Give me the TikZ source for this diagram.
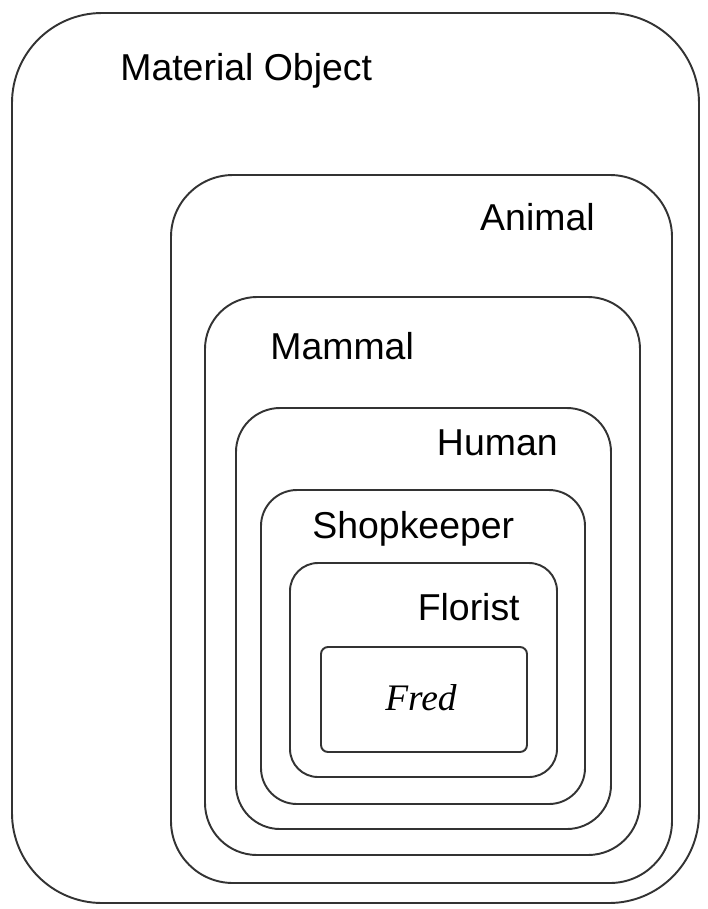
\documentclass[tikz,border=0pt]{standalone}
\usepackage{fontspec}
\setmainfont{Liberation Sans}
\newfontfamily\fredfont{Liberation Serif}
\begin{document}
\begin{tikzpicture}[
        box/.style={line width=1.1pt, draw=black!80},
        etykieta/.style={inner sep=0pt, font=\fontsize{21.3}{25}\selectfont}
    ]
        \useasboundingbox (0,0) rectangle (14.14,-18.18);

        % Material Object
        \draw[box, rounded corners=1.8cm] (0.24,-0.26) rectangle (13.98,-18.06);
        \node[etykieta, anchor=base west] (material) at (2.4,-1.6) {Material Object};

        % Animal
        \draw[box, rounded corners=1.24cm] (3.42,-3.5) rectangle (13.44,-17.66);
        \node[etykieta, anchor=base east] (animal) at (11.9,-4.6) {Animal};

        % Mammal
        \draw[box, rounded corners=1.04cm] (4.1,-5.94) rectangle (12.8,-17.1);
        \node[etykieta, anchor=base west] (mammal) at (5.4,-7.18) {Mammal};

        % Human
        \draw[box, rounded corners=0.88cm] (4.72,-8.16) rectangle (12.22,-16.58);
        \node[etykieta, anchor=base east] (human) at (11.16,-9.1) {Human};

        % Shopkeeper
        \draw[box, rounded corners=0.72cm] (5.22,-9.8) rectangle (11.7,-16.08);
        \node[etykieta, anchor=base west] (shopkeeper) at (6.24,-10.76) {Shopkeeper};

        % Florist
        \draw[box, rounded corners=0.56cm] (5.8,-11.26) rectangle (11.14,-15.54);
        \node[etykieta, anchor=base east] (florist) at (10.4,-12.4) {Florist};

        % Fred (kursywa, szeryfowa)
        \draw[box, rounded corners=0.14cm] (6.42,-12.94) rectangle (10.54,-15.04);
        \node[etykieta, anchor=base, font=\fontsize{21.3}{25}\selectfont\fredfont\itshape] (fred) at (8.42,-14.2) {Fred};
    \end{tikzpicture}
\end{document}
